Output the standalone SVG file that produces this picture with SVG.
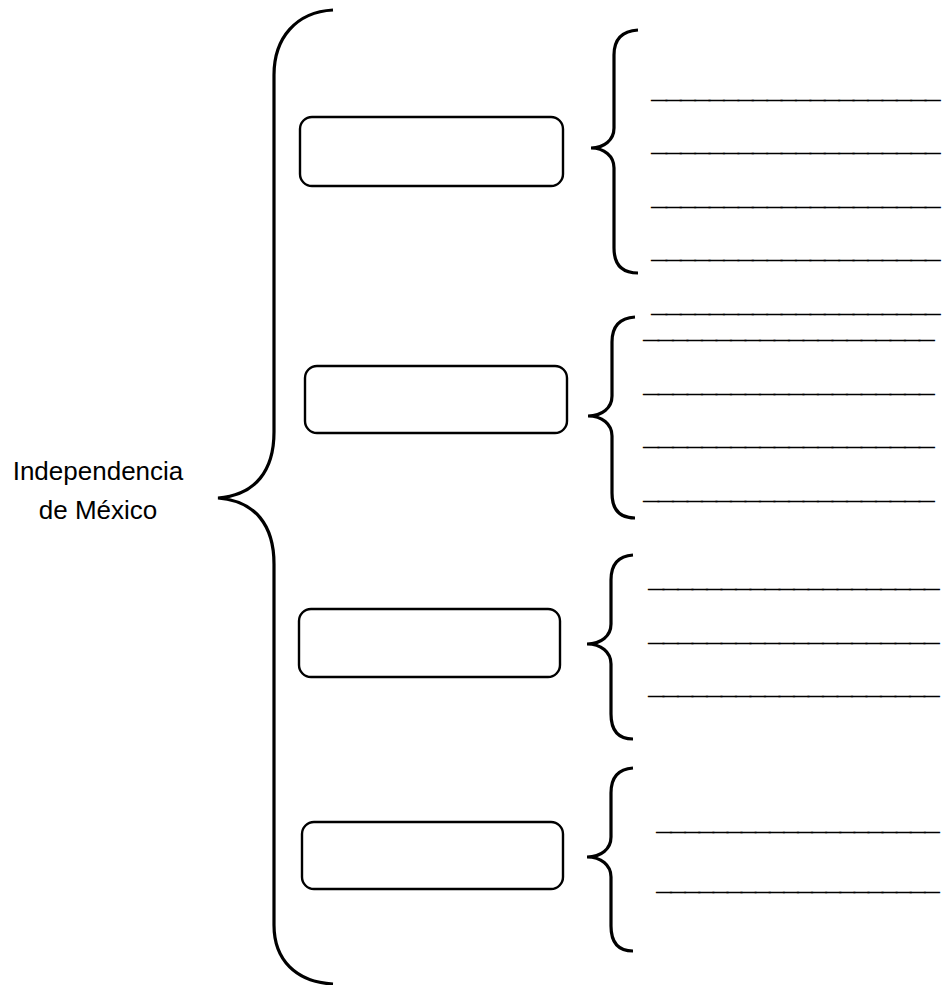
<svg xmlns="http://www.w3.org/2000/svg" width="943" height="985" viewBox="0 0 943 985">
<style>
.brace{fill:none;stroke:#000;stroke-width:3.2;stroke-linecap:butt}
.box{fill:#fff;stroke:#000;stroke-width:2.4}
.ln{font-family:"Liberation Sans",Arial,sans-serif;font-size:14px;fill:#000;stroke:#000;stroke-width:0.8}
.lbl{font-family:"Liberation Sans",Arial,sans-serif;font-size:26px;fill:#000;text-anchor:middle}
</style>
<rect width="943" height="985" fill="#fff"/>
<g id="connectors">
<path id="brace-main" class="brace" d="M333 10 C296 12,274 38,274 75 L274 432 C274 470,256 495,218 498 C256 501,274 526,274 564 L274 925 C274 960,296 982,333 984"/>
<path id="brace-1" class="brace" d="M638 30 C621 31,614 40,614 55 L614 128 C614 140,604 148,591 148 C604 148,614 156,614 168 L614 248 C614 264,621 273,638 273"/>
<path id="brace-2" class="brace" d="M635 317 C619 318,612 327,612 342 L612 396 C612 408,602 416,588 416 C602 416,612 424,612 436 L612 493 C612 509,619 518,635 518"/>
<path id="brace-3" class="brace" d="M633 555 C618 556,611 565,611 580 L611 624 C611 636,601 644,587 644 C601 644,611 652,611 664 L611 714 C611 730,618 739,633 739"/>
<path id="brace-4" class="brace" d="M633 768 C618 769,611 778,611 793 L611 837 C611 849,601 857,587 857 C601 857,611 865,611 877 L611 926 C611 942,618 951,633 951"/>
</g>
<g id="root">
<text class="lbl" x="98" y="480">Independencia</text>
<text class="lbl" x="98" y="519">de México</text>
</g>
<g id="node-1"><rect class="box" x="300" y="117" width="263" height="69" rx="12"/></g>
<g id="node-2"><rect class="box" x="305" y="366" width="262" height="67" rx="12"/></g>
<g id="node-3"><rect class="box" x="299" y="609" width="261" height="68" rx="12"/></g>
<g id="node-4"><rect class="box" x="302" y="822" width="261" height="67" rx="12"/></g>
<g id="lines-1">
<text class="ln" x="652" y="98" textLength="288" lengthAdjust="spacingAndGlyphs">____________________</text>
<text class="ln" x="652" y="151" textLength="288" lengthAdjust="spacingAndGlyphs">____________________</text>
<text class="ln" x="652" y="205" textLength="288" lengthAdjust="spacingAndGlyphs">____________________</text>
<text class="ln" x="652" y="258" textLength="288" lengthAdjust="spacingAndGlyphs">____________________</text>
<text class="ln" x="652" y="312" textLength="288" lengthAdjust="spacingAndGlyphs">____________________</text>
</g>
<g id="lines-2">
<text class="ln" x="644" y="338" textLength="290" lengthAdjust="spacingAndGlyphs">____________________</text>
<text class="ln" x="644" y="392" textLength="290" lengthAdjust="spacingAndGlyphs">____________________</text>
<text class="ln" x="644" y="445" textLength="290" lengthAdjust="spacingAndGlyphs">____________________</text>
<text class="ln" x="644" y="499" textLength="290" lengthAdjust="spacingAndGlyphs">____________________</text>
</g>
<g id="lines-3">
<text class="ln" x="649" y="587" textLength="290" lengthAdjust="spacingAndGlyphs">____________________</text>
<text class="ln" x="649" y="641" textLength="290" lengthAdjust="spacingAndGlyphs">____________________</text>
<text class="ln" x="649" y="694" textLength="290" lengthAdjust="spacingAndGlyphs">____________________</text>
</g>
<g id="lines-4">
<text class="ln" x="657" y="830" textLength="282" lengthAdjust="spacingAndGlyphs">____________________</text>
<text class="ln" x="657" y="890" textLength="282" lengthAdjust="spacingAndGlyphs">____________________</text>
</g>
</svg>
